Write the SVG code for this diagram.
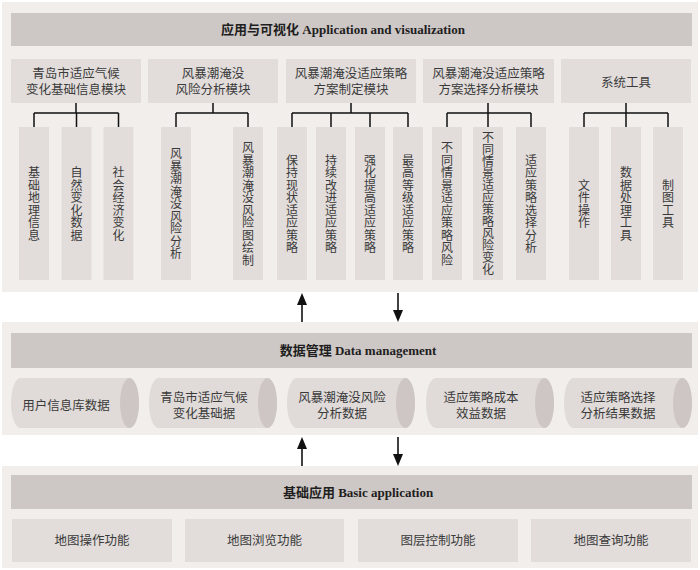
<svg xmlns="http://www.w3.org/2000/svg" width="700" height="570" viewBox="0 0 700 570">
<defs>
<style>
.panel{fill:#f1eeec}
.bar{fill:#cdc7c5}
.box{fill:#e2dddb}
.cyl{fill:#e0dbd9}
.cap{fill:#cdc6c4}
.hd{font-family:"Liberation Serif","Noto Sans CJK SC",serif;font-size:13px;font-weight:700;fill:#1e1e1e;text-anchor:middle}
.t{font-family:"Noto Sans CJK SC","Noto Sans",sans-serif;font-size:12.5px;fill:#3a3a3a;text-anchor:middle}
.v{font-family:"Noto Sans CJK SC","Noto Sans",sans-serif;font-size:12px;fill:#3a3a3a;text-anchor:middle}
.ln{stroke:#111;stroke-width:1.5;fill:none}
.ar{stroke:#111;stroke-width:1.6;fill:none;marker-end:url(#ah)}
</style>
<marker id="ah" viewBox="0 0 12 10" refX="9" refY="5" markerUnits="userSpaceOnUse" markerWidth="12" markerHeight="10" orient="auto">
<path d="M0,0 L12,5 L0,10 z" fill="#111"/>
</marker>
</defs>
<rect width="700" height="570" fill="#ffffff"/>

<!-- Panels -->
<rect class="panel" x="2" y="2" width="696" height="290"/>
<rect class="panel" x="2" y="322" width="696" height="113"/>
<rect class="panel" x="2" y="466" width="696" height="102"/>

<!-- Application layer -->
<g id="app-header">
<rect class="bar" x="11" y="13" width="681" height="33"/>
<text class="hd" x="343" y="34">应用与可视化 Application and visualization</text>
</g>
<g id="mod1">
<rect class="box" x="11" y="59" width="130" height="44"/>
<text class="t" x="76" y="77.6">青岛市适应气候</text>
<text class="t" x="76" y="93.6">变化基础信息模块</text>
</g>
<g id="mod2">
<rect class="box" x="148" y="59" width="130" height="44"/>
<text class="t" x="213" y="77.6">风暴潮淹没</text>
<text class="t" x="213" y="93.6">风险分析模块</text>
</g>
<g id="mod3">
<rect class="box" x="286" y="59" width="130" height="44"/>
<text class="t" x="351" y="77.6">风暴潮淹没适应策略</text>
<text class="t" x="351" y="93.6">方案制定模块</text>
</g>
<g id="mod4">
<rect class="box" x="423" y="59" width="131" height="44"/>
<text class="t" x="488.5" y="77.6">风暴潮淹没适应策略</text>
<text class="t" x="488.5" y="93.6">方案选择分析模块</text>
</g>
<g id="mod5">
<rect class="box" x="561" y="59" width="130" height="44"/>
<text class="t" x="626" y="86.6">系统工具</text>
</g>

<!-- Sub-module columns -->
<g id="c1"><rect class="box" x="19" y="127" width="30" height="153"/>
<text class="v" x="34" y="177.15"><tspan x="34">基</tspan><tspan x="34" dy="12.5">础</tspan><tspan x="34" dy="12.5">地</tspan><tspan x="34" dy="12.5">理</tspan><tspan x="34" dy="12.5">信</tspan><tspan x="34" dy="12.5">息</tspan></text></g>
<g id="c2"><rect class="box" x="61.5" y="127" width="30" height="153"/>
<text class="v" x="76.5" y="177.15"><tspan x="76.5">自</tspan><tspan x="76.5" dy="12.5">然</tspan><tspan x="76.5" dy="12.5">变</tspan><tspan x="76.5" dy="12.5">化</tspan><tspan x="76.5" dy="12.5">数</tspan><tspan x="76.5" dy="12.5">据</tspan></text></g>
<g id="c3"><rect class="box" x="103.5" y="127" width="30" height="153"/>
<text class="v" x="118.5" y="177.15"><tspan x="118.5">社</tspan><tspan x="118.5" dy="12.5">会</tspan><tspan x="118.5" dy="12.5">经</tspan><tspan x="118.5" dy="12.5">济</tspan><tspan x="118.5" dy="12.5">变</tspan><tspan x="118.5" dy="12.5">化</tspan></text></g>
<g id="c4"><rect class="box" x="161" y="127" width="30" height="153"/>
<text class="v" x="176" y="158.4"><tspan x="176">风</tspan><tspan x="176" dy="12.5">暴</tspan><tspan x="176" dy="12.5">潮</tspan><tspan x="176" dy="12.5">淹</tspan><tspan x="176" dy="12.5">没</tspan><tspan x="176" dy="12.5">风</tspan><tspan x="176" dy="12.5">险</tspan><tspan x="176" dy="12.5">分</tspan><tspan x="176" dy="12.5">析</tspan></text></g>
<g id="c5"><rect class="box" x="233" y="127" width="30" height="153"/>
<text class="v" x="248" y="152.15"><tspan x="248">风</tspan><tspan x="248" dy="12.5">暴</tspan><tspan x="248" dy="12.5">潮</tspan><tspan x="248" dy="12.5">淹</tspan><tspan x="248" dy="12.5">没</tspan><tspan x="248" dy="12.5">风</tspan><tspan x="248" dy="12.5">险</tspan><tspan x="248" dy="12.5">图</tspan><tspan x="248" dy="12.5">绘</tspan><tspan x="248" dy="12.5">制</tspan></text></g>
<g id="c6"><rect class="box" x="277" y="127" width="30" height="153"/>
<text class="v" x="292" y="164.65"><tspan x="292">保</tspan><tspan x="292" dy="12.5">持</tspan><tspan x="292" dy="12.5">现</tspan><tspan x="292" dy="12.5">状</tspan><tspan x="292" dy="12.5">适</tspan><tspan x="292" dy="12.5">应</tspan><tspan x="292" dy="12.5">策</tspan><tspan x="292" dy="12.5">略</tspan></text></g>
<g id="c7"><rect class="box" x="316" y="127" width="30" height="153"/>
<text class="v" x="331" y="164.65"><tspan x="331">持</tspan><tspan x="331" dy="12.5">续</tspan><tspan x="331" dy="12.5">改</tspan><tspan x="331" dy="12.5">进</tspan><tspan x="331" dy="12.5">适</tspan><tspan x="331" dy="12.5">应</tspan><tspan x="331" dy="12.5">策</tspan><tspan x="331" dy="12.5">略</tspan></text></g>
<g id="c8"><rect class="box" x="355" y="127" width="30" height="153"/>
<text class="v" x="370" y="164.65"><tspan x="370">强</tspan><tspan x="370" dy="12.5">化</tspan><tspan x="370" dy="12.5">提</tspan><tspan x="370" dy="12.5">高</tspan><tspan x="370" dy="12.5">适</tspan><tspan x="370" dy="12.5">应</tspan><tspan x="370" dy="12.5">策</tspan><tspan x="370" dy="12.5">略</tspan></text></g>
<g id="c9"><rect class="box" x="393" y="127" width="30" height="153"/>
<text class="v" x="408" y="164.65"><tspan x="408">最</tspan><tspan x="408" dy="12.5">高</tspan><tspan x="408" dy="12.5">等</tspan><tspan x="408" dy="12.5">级</tspan><tspan x="408" dy="12.5">适</tspan><tspan x="408" dy="12.5">应</tspan><tspan x="408" dy="12.5">策</tspan><tspan x="408" dy="12.5">略</tspan></text></g>
<g id="c10"><rect class="box" x="432" y="127" width="30" height="153"/>
<text class="v" x="447" y="152.15"><tspan x="447">不</tspan><tspan x="447" dy="12.5">同</tspan><tspan x="447" dy="12.5">情</tspan><tspan x="447" dy="12.5">景</tspan><tspan x="447" dy="12.5">适</tspan><tspan x="447" dy="12.5">应</tspan><tspan x="447" dy="12.5">策</tspan><tspan x="447" dy="12.5">略</tspan><tspan x="447" dy="12.5">风</tspan><tspan x="447" dy="12.5">险</tspan></text></g>
<g id="c11"><rect class="box" x="473" y="127" width="30" height="153"/>
<text class="v" x="488" y="142.4"><tspan x="488">不</tspan><tspan x="488" dy="12">同</tspan><tspan x="488" dy="12">情</tspan><tspan x="488" dy="12">景</tspan><tspan x="488" dy="12">适</tspan><tspan x="488" dy="12">应</tspan><tspan x="488" dy="12">策</tspan><tspan x="488" dy="12">略</tspan><tspan x="488" dy="12">风</tspan><tspan x="488" dy="12">险</tspan><tspan x="488" dy="12">变</tspan><tspan x="488" dy="12">化</tspan></text></g>
<g id="c12"><rect class="box" x="516" y="127" width="30" height="153"/>
<text class="v" x="531" y="164.65"><tspan x="531">适</tspan><tspan x="531" dy="12.5">应</tspan><tspan x="531" dy="12.5">策</tspan><tspan x="531" dy="12.5">略</tspan><tspan x="531" dy="12.5">选</tspan><tspan x="531" dy="12.5">择</tspan><tspan x="531" dy="12.5">分</tspan><tspan x="531" dy="12.5">析</tspan></text></g>
<g id="c13"><rect class="box" x="569" y="127" width="30" height="153"/>
<text class="v" x="584" y="189.65"><tspan x="584">文</tspan><tspan x="584" dy="12.5">件</tspan><tspan x="584" dy="12.5">操</tspan><tspan x="584" dy="12.5">作</tspan></text></g>
<g id="c14"><rect class="box" x="611" y="127" width="30" height="153"/>
<text class="v" x="626" y="177.15"><tspan x="626">数</tspan><tspan x="626" dy="12.5">据</tspan><tspan x="626" dy="12.5">处</tspan><tspan x="626" dy="12.5">理</tspan><tspan x="626" dy="12.5">工</tspan><tspan x="626" dy="12.5">具</tspan></text></g>
<g id="c15"><rect class="box" x="653" y="127" width="30" height="153"/>
<text class="v" x="668" y="189.65"><tspan x="668">制</tspan><tspan x="668" dy="12.5">图</tspan><tspan x="668" dy="12.5">工</tspan><tspan x="668" dy="12.5">具</tspan></text></g>

<!-- Data management layer -->
<g id="data-header">
<rect class="bar" x="11" y="333" width="681" height="35"/>
<text class="hd" x="358" y="355">数据管理 Data management</text>
</g>
<g id="d1">
<path class="cyl" d="M20.5,378 L129.5,378 A9.5,25 0 0 1 129.5,428 L20.5,428 A9.5,25 0 0 1 20.5,378 Z"/>
<ellipse class="cap" cx="129.5" cy="403" rx="9.5" ry="25"/>
<text class="t" x="66" y="409.6">用户信息库数据</text>
</g>
<g id="d2">
<path class="cyl" d="M158.5,378 L267.5,378 A9.5,25 0 0 1 267.5,428 L158.5,428 A9.5,25 0 0 1 158.5,378 Z"/>
<ellipse class="cap" cx="267.5" cy="403" rx="9.5" ry="25"/>
<text class="t" x="204" y="401.6">青岛市适应气候</text>
<text class="t" x="204" y="417.6">变化基础据</text>
</g>
<g id="d3">
<path class="cyl" d="M296.5,378 L405.5,378 A9.5,25 0 0 1 405.5,428 L296.5,428 A9.5,25 0 0 1 296.5,378 Z"/>
<ellipse class="cap" cx="405.5" cy="403" rx="9.5" ry="25"/>
<text class="t" x="342" y="401.6">风暴潮淹没风险</text>
<text class="t" x="342" y="417.6">分析数据</text>
</g>
<g id="d4">
<path class="cyl" d="M435.5,378 L544.5,378 A9.5,25 0 0 1 544.5,428 L435.5,428 A9.5,25 0 0 1 435.5,378 Z"/>
<ellipse class="cap" cx="544.5" cy="403" rx="9.5" ry="25"/>
<text class="t" x="481" y="401.6">适应策略成本</text>
<text class="t" x="481" y="417.6">效益数据</text>
</g>
<g id="d5">
<path class="cyl" d="M573.5,378 L682.5,378 A9.5,25 0 0 1 682.5,428 L573.5,428 A9.5,25 0 0 1 573.5,378 Z"/>
<ellipse class="cap" cx="682.5" cy="403" rx="9.5" ry="25"/>
<text class="t" x="618" y="401.6">适应策略选择</text>
<text class="t" x="618" y="417.6">分析结果数据</text>
</g>

<!-- Basic application layer -->
<g id="basic-header">
<rect class="bar" x="11" y="475" width="681" height="34"/>
<text class="hd" x="358" y="497">基础应用 Basic application</text>
</g>
<g id="b1"><rect class="box" x="12" y="519" width="160" height="43"/><text class="t" x="92" y="545">地图操作功能</text></g>
<g id="b2"><rect class="box" x="185" y="519" width="159" height="43"/><text class="t" x="264.5" y="545">地图浏览功能</text></g>
<g id="b3"><rect class="box" x="358" y="519" width="160" height="43"/><text class="t" x="438" y="545">图层控制功能</text></g>
<g id="b4"><rect class="box" x="531" y="519" width="160" height="43"/><text class="t" x="611" y="545">地图查询功能</text></g>

<!-- Connectors -->
<g id="connectors">
<path class="ln" d="M76,103 V113 M34,113 H118.5 M34,113 V127 M76.5,113 V127 M118.5,113 V127"/>
<path class="ln" d="M213,103 V113 M176,113 H248 M176,113 V127 M248,113 V127"/>
<path class="ln" d="M351,103 V113 M292,113 H408 M292,113 V127 M331,113 V127 M370,113 V127 M408,113 V127"/>
<path class="ln" d="M488,103 V113 M447,113 H531 M447,113 V127 M488,113 V127 M531,113 V127"/>
<path class="ln" d="M626,103 V113 M584,113 H668 M584,113 V127 M626,113 V127 M668,113 V127"/>
<line class="ar" x1="302" y1="322" x2="302" y2="296"/>
<line class="ar" x1="398" y1="293" x2="398" y2="319"/>
<line class="ar" x1="302" y1="466" x2="302" y2="440"/>
<line class="ar" x1="398" y1="437" x2="398" y2="463"/>
</g>
</svg>
